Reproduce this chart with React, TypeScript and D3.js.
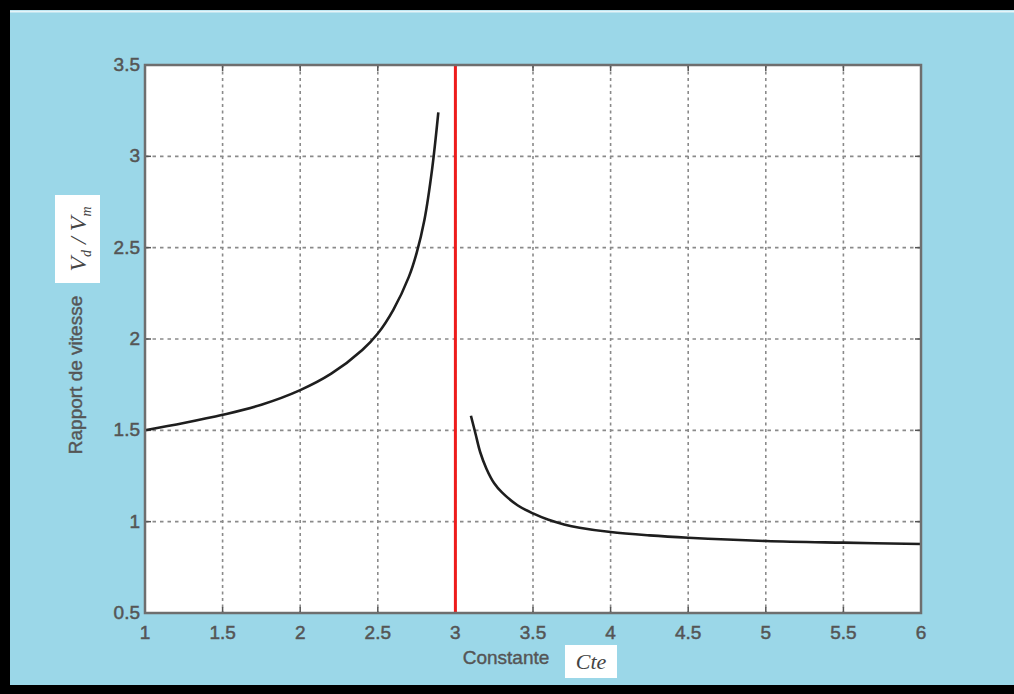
import React from "react";
import * as d3 from "d3";

// values
const xTicks = [1, 1.5, 2, 2.5, 3, 3.5, 4, 4.5, 5, 5.5, 6];
const yTicks = [0.5, 1, 1.5, 2, 2.5, 3, 3.5];

const leftX = [1, 1.25, 1.5, 1.75, 2, 2.2, 2.4, 2.5, 2.6, 2.7, 2.75, 2.8, 2.85, 2.89];
const leftY = [1.5, 1.54, 1.585, 1.64, 1.72, 1.81, 1.94, 2.03, 2.16, 2.34, 2.47, 2.65, 2.93, 3.24];

const rightX = [3.1, 3.13, 3.16, 3.2, 3.25, 3.3, 3.4, 3.5, 3.6, 3.7, 3.8, 4, 4.25, 4.5, 5, 5.5, 6];
const rightY = [1.58, 1.48, 1.38, 1.29, 1.21, 1.16, 1.09, 1.045, 1.01, 0.985, 0.967, 0.943, 0.925, 0.912, 0.894, 0.885, 0.878];

const limitX = 3;

const W = 1014;
const H = 694;
const plot = { left: 145, top: 65, right: 921, bottom: 613 };

const App = () => {
    const x = d3.scaleLinear().domain([1, 6]).range([plot.left, plot.right]);
    const y = d3.scaleLinear().domain([0.5, 3.5]).range([plot.bottom, plot.top]);

    const line = d3.line<[number, number]>()
        .x(d => x(d[0]))
        .y(d => y(d[1]))
        .curve(d3.curveCatmullRom.alpha(0.5));

    const leftPath = line(leftX.map((v, i) => [v, leftY[i]]));
    const rightPath = line(rightX.map((v, i) => [v, rightY[i]]));

    const tickFont = "'Liberation Sans', Arial, sans-serif";
    const labelColor = "#555";

    return (
        <svg width={W} height={H} style={{ position: "absolute", left: 0, top: 0 }}>
            <rect x={0} y={0} width={W} height={H} fill="#9bd7e8" />
            {/* black frame */}
            <rect x={0} y={0} width={W} height={10} fill="#000" />
            <rect x={0} y={0} width={10} height={H} fill="#000" />
            <rect x={0} y={685} width={W} height={9} fill="#000" />
            <line x1={10} x2={W} y1={11.5} y2={11.5} stroke="#e6f4f8" strokeWidth={2} />

            {/* plot area */}
            <rect x={plot.left} y={plot.top} width={plot.right - plot.left} height={plot.bottom - plot.top} fill="#fff" />

            {/* grid */}
            {xTicks.slice(1, -1).map(t => (
                <line key={"gx" + t} x1={x(t)} x2={x(t)} y1={plot.top} y2={plot.bottom}
                    stroke="#8a8a8a" strokeWidth={1.6} strokeDasharray="3,3.5" />
            ))}
            {yTicks.slice(1, -1).map(t => (
                <line key={"gy" + t} x1={plot.left} x2={plot.right} y1={y(t)} y2={y(t)}
                    stroke="#8a8a8a" strokeWidth={1.6} strokeDasharray="3.5,4" />
            ))}

            {/* ticks */}
            {xTicks.map(t => (
                <g key={"tx" + t}>
                    <line x1={x(t)} x2={x(t)} y1={plot.bottom} y2={plot.bottom - 6} stroke="#555" strokeWidth={1.5} />
                    <line x1={x(t)} x2={x(t)} y1={plot.top} y2={plot.top + 6} stroke="#555" strokeWidth={1.5} />
                    <text x={x(t)} y={plot.bottom + 26} textAnchor="middle" fontFamily={tickFont}
                        fontSize={19} fill={labelColor} stroke={labelColor} strokeWidth={0.5}>{t}</text>
                </g>
            ))}
            {yTicks.map(t => (
                <g key={"ty" + t}>
                    <line x1={plot.left} x2={plot.left + 6} y1={y(t)} y2={y(t)} stroke="#555" strokeWidth={1.5} />
                    <line x1={plot.right} x2={plot.right - 6} y1={y(t)} y2={y(t)} stroke="#555" strokeWidth={1.5} />
                    <text x={plot.left - 5} y={y(t) + 6} textAnchor="end" fontFamily={tickFont}
                        fontSize={19} fill={labelColor} stroke={labelColor} strokeWidth={0.5}>{t}</text>
                </g>
            ))}

            {/* curves */}
            <path d={leftPath ?? ""} fill="none" stroke="#1e1e1e" strokeWidth={2.6} />
            <path d={rightPath ?? ""} fill="none" stroke="#1e1e1e" strokeWidth={2.6} />

            {/* limit */}
            <line x1={x(limitX)} x2={x(limitX)} y1={plot.top} y2={plot.bottom} stroke="#ee1c1c" strokeWidth={3} />

            {/* frame */}
            <rect x={plot.left} y={plot.top} width={plot.right - plot.left} height={plot.bottom - plot.top}
                fill="none" stroke="#6e6e6e" strokeWidth={2.5} />

            {/* y label */}
            <text transform={`translate(82,375) rotate(-90)`} textAnchor="middle" fontFamily={tickFont}
                fontSize={19} fill={labelColor} stroke={labelColor} strokeWidth={0.4}>Rapport de vitesse</text>
            <rect x={55} y={195} width={45} height={88} fill="#fff" />
            <text transform={`translate(86,239) rotate(-90)`} textAnchor="middle"
                fontFamily="'Liberation Serif', 'Times New Roman', serif" fontStyle="italic" fontSize={24} fill="#444">
                <tspan>V</tspan>
                <tspan fontSize={14} dy={5}>d</tspan>
                <tspan dy={-5}> / V</tspan>
                <tspan fontSize={14} dy={5}>m</tspan>
            </text>

            {/* x label */}
            <text x={506} y={664} textAnchor="middle" fontFamily={tickFont} fontSize={19} fill={labelColor}
                stroke={labelColor} strokeWidth={0.4}>Constante</text>
            <rect x={565} y={645} width={52} height={33} fill="#fff" />
            <text x={591} y={669} textAnchor="middle" fontFamily="'Liberation Serif', 'Times New Roman', serif"
                fontStyle="italic" fontSize={22} fill="#444">Cte</text>
        </svg>
    );
};

export default App;
